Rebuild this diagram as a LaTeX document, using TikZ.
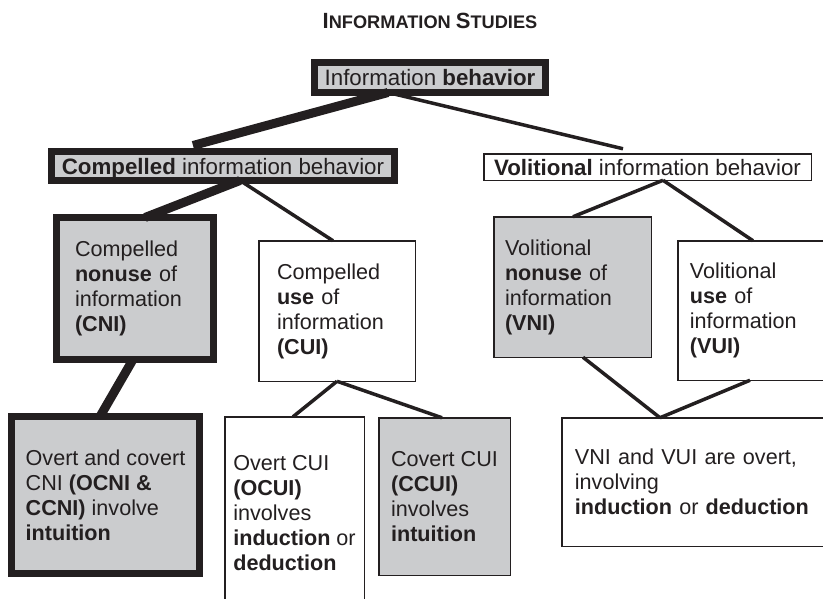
\documentclass[tikz,border=0pt]{standalone}
\usepackage{fontspec}
\setmainfont{Liberation Sans}
\usetikzlibrary{calc}
\definecolor{inkc}{HTML}{231F20}
\definecolor{boxgray}{HTML}{CBCCCE}
\newcommand{\bodyfont}{\fontsize{21.6}{25}\selectfont}
\newcommand{\headfont}{\fontsize{22.3}{26}\selectfont}
\tikzset{
  boxbase/.style  = {rectangle, outer sep=0pt, inner sep=0pt, draw=inkc,
                     text=inkc, align=left, font=\bodyfont},
  heavybox/.style = {boxbase, line width=7pt, fill=boxgray},
  lightbox/.style = {boxbase, line width=1.5pt, fill=white},
  greybox/.style  = {lightbox, fill=boxgray},
  headbox/.style  = {font=\headfont, text depth=0pt},
  heavy/.style    = {line width=9pt, draw=inkc},
  medium/.style   = {line width=3.5pt, draw=inkc},
}

\begin{document}
\begin{tikzpicture}[x=1pt, y=-1pt]
  \clip (0,0) rectangle (823,598);

  \node[text=inkc, font=\bfseries] (title) at (430,21)
    {\fontsize{22}{26}\selectfont I\fontsize{18.2}{22}\selectfont NFORMATION
     \fontsize{22}{26}\selectfont S\fontsize{18.2}{22}\selectfont TUDIES};

  % top levels
  \node[heavybox, headbox, minimum width=231, minimum height=30]
    (ib) at (430,77.5) {Information \textbf{behavior}};
  \node[heavybox, headbox, minimum width=343, minimum height=29]
    (cib) at (223,166) {\textbf{Compelled} information behavior};
  \node[lightbox, headbox, minimum width=327.5, minimum height=26.5]
    (vib) at (647.5,167) {\textbf{Volitional} information behavior};

  % middle level
  \node[heavybox, minimum width=157, minimum height=142, text width=120]
    (cni) at (135,288.5)
    {Compelled\\\textbf{nonuse} of\\information\\\textbf{(CNI)}};
  \node[lightbox, minimum width=156.5, minimum height=140.5, text width=120]
    (cui) at (337,311)
    {Compelled\\\textbf{use} of\\information\\\textbf{(CUI)}};
  \node[greybox, minimum width=157.5, minimum height=140.5, text width=135]
    (vni) at (572.5,287)
    {Volitional\\\textbf{nonuse} of\\information\\\textbf{(VNI)}};
  \node[lightbox, minimum width=157.25, minimum height=139.5, text width=133]
    (vui) at (756.4,310.5)
    {Volitional\\\textbf{use} of\\information\\\textbf{(VUI)}};

  % bottom level
  \node[heavybox, minimum width=188, minimum height=157]
    (ocni) at (105.5,495)
    {Overt and covert\\CNI \textbf{(OCNI \&}\\\textbf{CCNI)} involve\\\textbf{intuition}};
  \node[lightbox, minimum width=139.5, minimum height=192.5]
    (ocui) at (294.5,513)
    {Overt CUI\\\textbf{(OCUI)}\\involves\\\textbf{induction} or\\\textbf{deduction}};
  \node[greybox, minimum width=131.5, minimum height=157.5]
    (ccui) at (444.5,496.5)
    {Covert CUI\\\textbf{(CCUI)}\\involves\\\textbf{intuition}};
  \node[lightbox, minimum width=273.25, minimum height=128.5, text width=247]
    (vvo) at (698.4,482)
    {VNI and VUI are overt,\\involving\\\textbf{induction} or \textbf{deduction}};

  % connectors
  \draw[heavy]  ($(ib.south)+(-42,0)$) -- ($(cib.north)+(-30,-6)$);
  \draw[medium] ($(ib.south)+(-42,0)$) -- ($(vib.north)+(-24.5,-5)$);
  \draw[heavy]  ($(cib.south)+(17,0)$) -- ($(cni.north)+(10,0)$);
  \draw[medium] ($(cib.south)+(17,0)$) -- ($(cui.north)+(-4,0)$);
  \draw[heavy]  ($(cni.south)+(-2,0)$) -- ($(ocni.north)+(-5.5,0)$);
  \draw[medium] (cui.south) -- ($(ocui.north)+(-1.5,0)$);
  \draw[medium] (cui.south) -- ($(ccui.north)+(-2.5,0)$);
  \draw[medium] ($(vib.south)+(15.5,0)$) -- ($(vni.north)+(0.5,0)$);
  \draw[medium] ($(vib.south)+(15.5,0)$) -- ($(vui.north)+(-3.4,0)$);
  \draw[medium] ($(vni.south)+(10.5,0)$) -- ($(vvo.north)+(-38.4,0)$);
  \draw[medium] ($(vui.south)+(-6.4,0)$) -- ($(vvo.north)+(-38.4,0)$);
\end{tikzpicture}
\end{document}
